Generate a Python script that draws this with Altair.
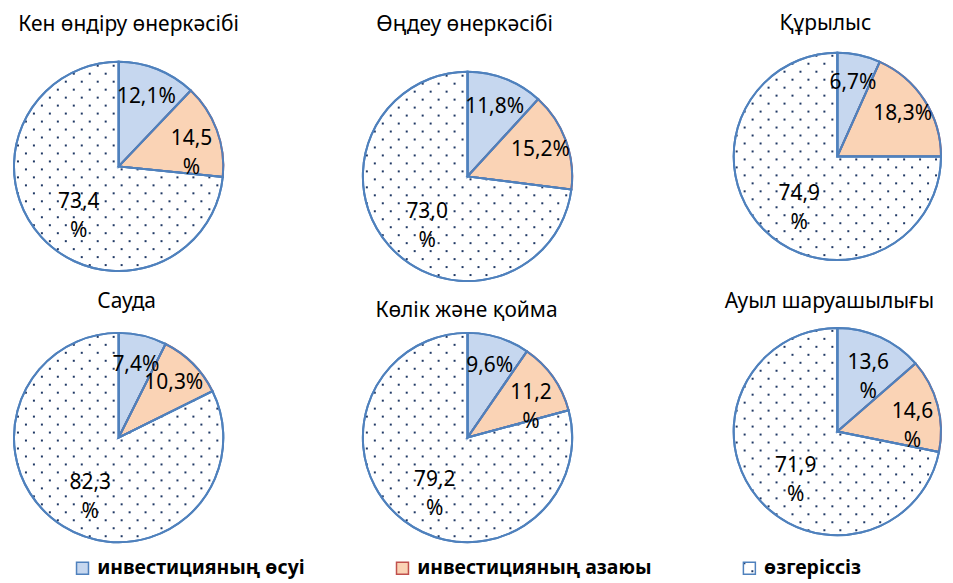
import altair as alt
import pandas as pd
import jinja2

try:
    from altair.utils.html import HTML_TEMPLATE as _BASE_TEMPLATE
except Exception:  # pragma: no cover
    from altair.utils.html import TEMPLATES as _T
    _BASE_TEMPLATE = _T["standard"]

# ---------------- data ----------------
sectors = [
    "Кен өндіру өнеркәсібі",
    "Өңдеу өнеркәсібі",
    "Құрылыс",
    "Сауда",
    "Көлік және қойма",
    "Ауыл шаруашылығы",
]
categories = ["инвестицияның өсуі", "инвестицияның азаюы", "өзгеріссіз"]
growth = [12.1, 11.8, 6.7, 7.4, 9.6, 13.6]
decline = [14.5, 15.2, 18.3, 10.3, 11.2, 14.6]
unchanged = [73.4, 73.0, 74.9, 82.3, 79.2, 71.9]
# whether the "%" sign of a data label wraps to a second line
growth_wrap = [False, False, False, False, False, True]
decline_wrap = [True, False, False, False, True, True]
unchanged_wrap = [True, True, True, True, True, True]

# ---------------- style ----------------
FONT = "Noto Sans"
BLUE_FILL = "#C6D7EF"
ORANGE_FILL = "#FAD3B5"
EDGE = "#4F81BD"
RED_EDGE = "#C0504D"
DOT = "#1F3864"

DOTS_DEFS = (
    '<svg width="0" height="0" style="position:absolute;left:0;top:0" aria-hidden="true">'
    '<defs><pattern id="dots" x="0" y="0" width="16" height="16" patternUnits="userSpaceOnUse">'
    '<rect width="16" height="16" fill="#ffffff"/>'
    f'<rect x="2" y="2" width="2" height="2" fill="{DOT}"/>'
    f'<rect x="10" y="10" width="2" height="2" fill="{DOT}"/>'
    "</pattern></defs></svg>"
)


class DotsTemplate(jinja2.Template):
    def render(self, *args, **kwargs):
        html = _BASE_TEMPLATE.render(*args, **kwargs)
        if "<body>" in html:
            return html.replace("<body>", "<body>\n" + DOTS_DEFS, 1)
        return DOTS_DEFS + html


# panel layout (view sizes, pie radii, title placement)
widths = [168, 210, 210, 168, 210, 210]
heights = [234, 254, 214, 234, 234, 222]
radii = [105, 105, 104, 105, 105, 104]
title_offsets = [0, 0, 0, 0, 0, 0]
title_dy = [2, 2, 2, 8, 17, 8]
title_dx = [10, -3, -12, 8, -1, -8]

fill_scale = alt.Scale(domain=categories, range=[BLUE_FILL, ORANGE_FILL, "url(#dots)"])
stroke_scale = alt.Scale(domain=categories, range=[EDGE, RED_EDGE, EDGE])

legend = alt.Legend(
    orient="none",
    legendX=38,
    legendY=510,
    direction="horizontal",
    title=None,
    symbolType="square",
    symbolSize=144,
    symbolStrokeWidth=1.5,
    labelFont=FONT,
    labelFontSize=19.5,
    labelFontWeight="bold",
    labelColor="black",
    labelLimit=400,
    labelOffset=5,
    columnPadding=88,
    padding=0,
)


def fmt(v, wrap):
    return f"{v:.1f}".replace(".", ",") + ("\n%" if wrap else "%")


def panel(i):
    vals = [growth[i], decline[i], unchanged[i]]
    wraps = [growth_wrap[i], decline_wrap[i], unchanged_wrap[i]]
    df = pd.DataFrame(
        {
            "cat": categories,
            "k": [0, 1, 2],
            "value": vals,
            "label": [fmt(v, w) for v, w in zip(vals, wraps)],
        }
    )
    R = radii[i]
    base = alt.Chart(df).encode(
        theta=alt.Theta("value:Q", stack=True),
        order=alt.Order("k:Q", sort="ascending"),
    )
    arcs = base.mark_arc(outerRadius=R, strokeWidth=2).encode(
        fill=alt.Fill("cat:N", scale=fill_scale, legend=legend),
        stroke=alt.Stroke("cat:N", scale=stroke_scale, legend=legend),
    )
    outline = base.mark_arc(
        outerRadius=R, stroke=EDGE, strokeWidth=2, fillOpacity=0, fill="white"
    )
    text_style = dict(font=FONT, fontSize=21, lineBreak="\n", lineHeight=29, color="black")
    grow_lbl = base.mark_text(radius=75, **text_style).encode(
        text=alt.condition(alt.datum.k == 0, "label:N", alt.value(""))
    )
    decl_lbl = base.mark_text(radius=78, **text_style).encode(
        text=alt.condition(alt.datum.k == 1, "label:N", alt.value(""))
    )
    same_lbl = base.mark_text(radius=54, **text_style).encode(
        text=alt.condition(alt.datum.k == 2, "label:N", alt.value(""))
    )
    return alt.layer(arcs, outline, grow_lbl, decl_lbl, same_lbl).properties(
        width=widths[i],
        height=heights[i],
        title=alt.TitleParams(
            sectors[i],
            font=FONT,
            fontSize=21,
            fontWeight="normal",
            color="black",
            anchor="middle",
            frame="group",
            baseline="alphabetic",
            offset=title_offsets[i],
            dx=title_dx[i],
            dy=title_dy[i],
        ),
    )


chart = (
    alt.concat(
        *[panel(i) for i in range(6)],
        columns=3,
        spacing={"row": 18, "column": 161},
        bounds="flush",
    )
    .resolve_scale(theta="independent")
    .properties(padding={"left": 2, "top": 4, "right": 0, "bottom": 0}, background="white")
    .configure_view(stroke=None)
)

chart.save(
    "out.html",
    embed_options={"renderer": "svg", "actions": False},
    template=DotsTemplate(""),
)
